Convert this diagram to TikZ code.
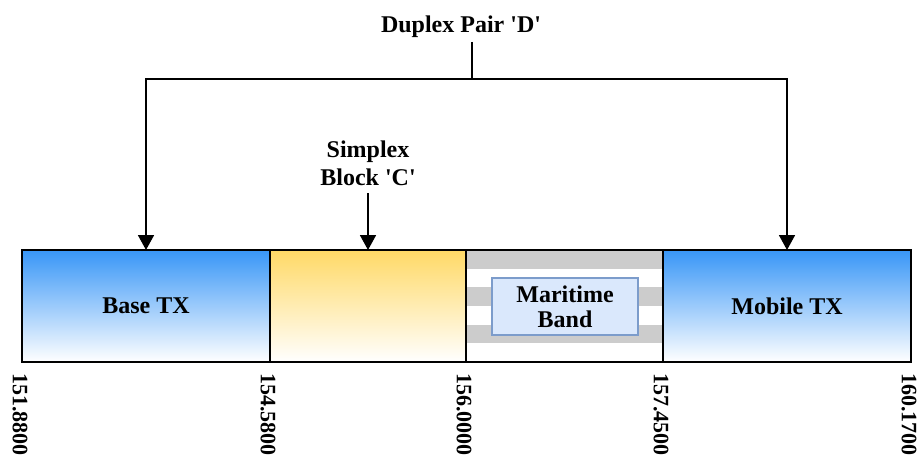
\documentclass[tikz,border=0pt]{standalone}
\usepackage{fontspec}
\setmainfont{Liberation Serif}
\usetikzlibrary{arrows.meta}
\definecolor{txblue}{HTML}{3896F7}
\definecolor{simpyel}{HTML}{FFD966}
\definecolor{stripegray}{HTML}{CCCCCC}
\definecolor{bandfill}{HTML}{DAE8FC}
\definecolor{banddraw}{HTML}{7C9CCB}
\begin{document}
\begin{tikzpicture}[x=1pt,y=-1pt,
  seg/.style={draw=black, line width=1.8pt, minimum height=112pt, inner sep=0pt, outer sep=0pt,
    anchor=north west, font=\bfseries\fontsize{24}{28}\selectfont},
  lbl/.style={font=\bfseries\fontsize{24}{28}\selectfont, align=center, inner sep=0pt},
  numlbl/.style={font=\bfseries\fontsize{22}{24}\selectfont, inner sep=0pt, rotate=-90, anchor=west},
  conn/.style={draw=black, line width=1.8pt},
  arr/.style={conn, -{Triangle[width=16pt,length=15pt]}}]
\useasboundingbox (0,0) rectangle (920,460);
% stripes of the maritime segment
\fill[stripegray] (466,250) rectangle (663,268.67);
\fill[stripegray] (466,287.33) rectangle (663,306);
\fill[stripegray] (466,324.67) rectangle (663,343.33);
% segments
\node[seg, minimum width=248pt, top color=txblue, bottom color=white] (base) at (22,250) {Base TX};
\node[seg, minimum width=196pt, top color=simpyel, bottom color=white] (simp) at (270,250) {};
\node[seg, minimum width=197pt] (mar) at (466,250) {};
\node[seg, minimum width=248pt, top color=txblue, bottom color=white] (mob) at (663,250) {Mobile TX};
% maritime inner box
\node[lbl, draw=banddraw, fill=bandfill, line width=1.2pt, minimum width=146pt, minimum height=57pt,
  font=\bfseries\fontsize{24}{25}\selectfont] (band) at (565,306.5) {Maritime\\Band};
% frequency labels
\node[numlbl] (f1) at (20,373) {151.8800};
\node[numlbl] (f2) at (268,373) {154.5800};
\node[numlbl] (f3) at (464,373) {156.0000};
\node[numlbl] (f4) at (661,373) {157.4500};
\node[numlbl] (f5) at (909,373) {160.1700};
% top labels
\node[lbl, anchor=south, inner ysep=4.5pt] (duplex) at (461,42) {Duplex Pair \textquotesingle D\textquotesingle};
\node[lbl, anchor=south, inner ysep=7pt] (simplex) at (368,193) {Simplex\\Block \textquotesingle C\textquotesingle};
% connectors
\coordinate (dtop) at (472,42);
\coordinate (dj) at (472,79);
\draw[conn] (dtop) -- (dj);
\draw[arr] (dj) -| (base.north);
\draw[arr] (dj) -| (mob.north);
\draw[arr] (simplex.south) -- (simp.north);
\end{tikzpicture}
\end{document}
